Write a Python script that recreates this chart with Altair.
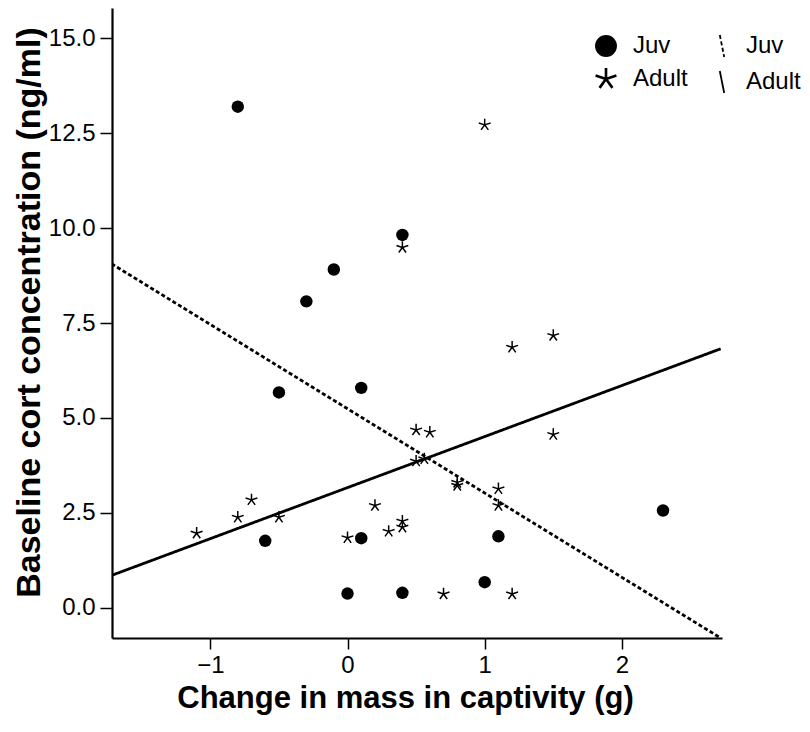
import math
import altair as alt
import pandas as pd

# ---- data ----
juv_x = [-0.8, 0.4, -0.1, -0.3, -0.5, 0.1, -0.6, 0.1, 1.1, 2.3, 0.0, 0.4, 1.0]
juv_y = [13.2, 9.82, 8.91, 8.07, 5.67, 5.79, 1.76, 1.83, 1.88, 2.56, 0.37, 0.39, 0.67]

adult_x = [-1.1, -0.8, -0.7, -0.5, 0.4, 1.0, 1.2, 1.5, 1.5, 0.5, 0.6, 0.5, 0.56,
           0.8, 0.8, 1.1, 1.1, 0.2, 0.4, 0.4, 0.3, 0.0, 0.7, 1.2]
adult_y = [1.96, 2.38, 2.84, 2.38, 9.49, 12.72, 6.86, 7.17, 4.56, 4.68, 4.62, 3.86, 3.92,
           3.30, 3.22, 3.13, 2.69, 2.69, 2.28, 2.12, 2.01, 1.84, 0.36, 0.36]

fit_x = [-1.72, 2.72]
juv_fit_y = [9.06, -0.80]
adult_fit_y = [0.85, 6.82]

groups = ["Juv", "Adult"]
x_ticks = [-1, 0, 1, 2]
y_ticks = [0.0, 2.5, 5.0, 7.5, 10.0, 12.5, 15.0]

pts = pd.DataFrame({
    "x": juv_x + adult_x,
    "y": juv_y + adult_y,
    "grp_pt": ["Juv"] * len(juv_x) + ["Adult"] * len(adult_x),
})
lines = pd.DataFrame({
    "x": fit_x + fit_x,
    "y": juv_fit_y + adult_fit_y,
    "grp_ln": ["Juv"] * 2 + ["Adult"] * 2,
})


def star_path(w=0.1):
    # five thin filled spokes radiating from the centre (asterisk-like star)
    parts = []
    for k in range(5):
        a = math.radians(72 * k)
        dx, dy = math.sin(a), -math.cos(a)
        px, py = math.cos(a) * w, math.sin(a) * w
        pts_ = [(px, py), (px + dx, py + dy), (-px + dx, -py + dy), (-px, -py)]
        parts.append("M" + "L".join(f"{x:.3f},{y:.3f}" for x, y in pts_) + "Z")
    return "".join(parts)


STAR = star_path(0.12)
FONT = "Liberation Sans"

x_scale = alt.Scale(domain=[-1.717, 2.73], nice=False, zero=False)
y_scale = alt.Scale(domain=[-0.8, 15.8], nice=False, zero=False)

x_enc = alt.X("x:Q", scale=x_scale,
              axis=alt.Axis(values=x_ticks, format="d",
                            title="Change in mass in captivity (g)", titlePadding=6,
                            titleFontSize=31, titleX=293, labelPadding=4, tickSize=11))
y_enc = alt.Y("y:Q", scale=y_scale,
              axis=alt.Axis(values=y_ticks, format=".1f",
                            title="Baseline cort concentration (ng/ml)", titlePadding=2,
                            titleFontSize=34, titleY=304, labelPadding=5, tickSize=12))

points = alt.Chart(pts).mark_point(
    filled=True, fill="black", strokeWidth=0, opacity=1, size=155
).encode(
    x=x_enc, y=y_enc,
    shape=alt.Shape("grp_pt:N",
                    scale=alt.Scale(domain=groups, range=["circle", STAR]),
                    legend=alt.Legend(title=None, orient="none", legendX=482, legendY=26,
                                      symbolSize=480, symbolFillColor="black",
                                      symbolStrokeWidth=0, symbolOpacity=1,
                                      labelOffset=15, rowPadding=9, padding=0)),
)

fits = alt.Chart(lines).mark_line(color="black", strokeWidth=2.8, clip=True).encode(
    x=x_enc, y=y_enc,
    strokeDash=alt.StrokeDash("grp_ln:N",
                              scale=alt.Scale(domain=groups, range=[[4, 2.5], [1, 0]]),
                              legend=alt.Legend(title=None, orient="none", legendX=598, legendY=26,
                                                symbolType="M-0.2,-1L0.2,1", symbolSize=480,
                                                symbolStrokeColor="black", symbolStrokeWidth=1.8,
                                                symbolOpacity=1,
                                                labelOffset=12, rowPadding=6, padding=0)),
)

chart = alt.layer(fits, points).resolve_legend(shape="independent", strokeDash="independent").properties(
    width=610, height=630,
    autosize=alt.AutoSizeParams(type="none"),
    padding={"left": 104, "top": 0, "right": 80, "bottom": 86},
).configure_view(stroke=None).configure_axis(
    grid=False, domainColor="black", domainWidth=2.2, tickColor="black", tickWidth=1.5,
    labelFont=FONT, labelFontSize=24, labelColor="black",
    titleFont=FONT, titleFontWeight="bold", titleColor="black",
).configure_legend(
    labelFont=FONT, labelFontSize=24, labelColor="black"
)

chart.save("out.html", embed_options={"renderer": "svg", "actions": False})
